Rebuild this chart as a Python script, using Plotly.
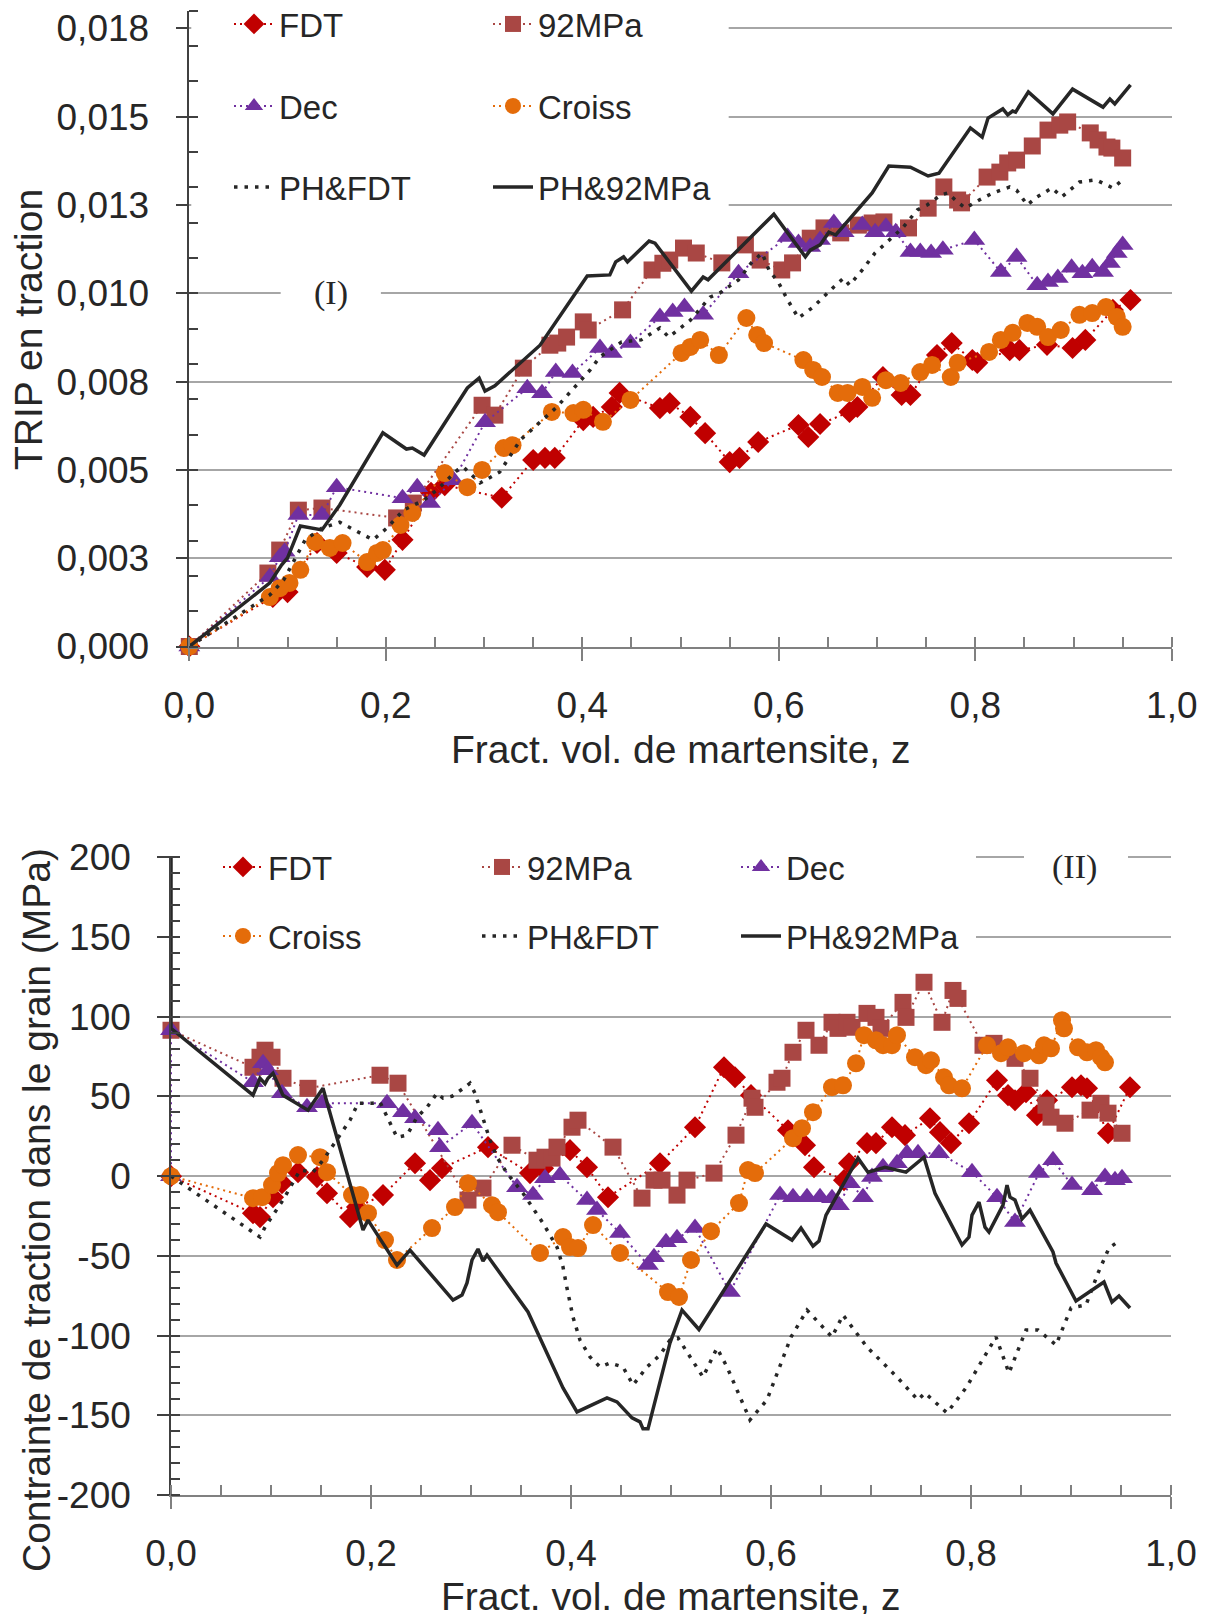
import plotly.graph_objects as go

# ---------------- DATA : top chart (TRIP en traction) ----------------
fdt_top_x = [0.000, 0.085, 0.100, 0.130, 0.150, 0.181, 0.199, 0.217, 0.246, 0.260, 0.318, 0.350, 0.362, 0.372,
             0.401, 0.411, 0.430, 0.438, 0.479, 0.489, 0.510, 0.525, 0.550, 0.560, 0.579, 0.620, 0.630, 0.642,
             0.672, 0.680, 0.706, 0.725, 0.734, 0.761, 0.776, 0.797, 0.802, 0.835, 0.845, 0.873, 0.899, 0.912,
             0.940, 0.958]
fdt_top_y = [0.00000, 0.00140, 0.00154, 0.00293, 0.00265, 0.00225, 0.00217, 0.00302, 0.00435, 0.00457, 0.00421,
             0.00528, 0.00534, 0.00534, 0.00641, 0.00650, 0.00678, 0.00718, 0.00675, 0.00689, 0.00650, 0.00604,
             0.00522, 0.00534, 0.00579, 0.00627, 0.00593, 0.00630, 0.00664, 0.00678, 0.00763, 0.00712, 0.00712,
             0.00825, 0.00859, 0.00811, 0.00803, 0.00839, 0.00839, 0.00854, 0.00845, 0.00868, 0.00953, 0.00981]

mpa_top_x = [0.000, 0.080, 0.092, 0.111, 0.135, 0.211, 0.228, 0.298, 0.311, 0.340, 0.367, 0.375, 0.384, 0.401,
             0.406, 0.441, 0.471, 0.482, 0.489, 0.503, 0.516, 0.542, 0.566, 0.581, 0.603, 0.614, 0.632, 0.646,
             0.663, 0.681, 0.695, 0.707, 0.732, 0.752, 0.768, 0.782, 0.786, 0.812, 0.825, 0.833, 0.842, 0.858,
             0.874, 0.886, 0.894, 0.917, 0.925, 0.934, 0.939, 0.950]
mpa_top_y = [0.00000, 0.00208, 0.00273, 0.00386, 0.00392, 0.00364, 0.00406, 0.00683, 0.00655, 0.00788, 0.00853,
             0.00859, 0.00876, 0.00919, 0.00896, 0.00953, 0.01066, 0.01085, 0.01094, 0.01128, 0.01114, 0.01086,
             0.01137, 0.01094, 0.01066, 0.01086, 0.01156, 0.01185, 0.01171, 0.01193, 0.01199, 0.01202, 0.01185,
             0.01241, 0.01301, 0.01264, 0.01256, 0.01329, 0.01343, 0.01369, 0.01377, 0.01417, 0.01462, 0.01476,
             0.01485, 0.01454, 0.01434, 0.01414, 0.01411, 0.01383]

dec_top_x = [0.000, 0.082, 0.092, 0.097, 0.111, 0.135, 0.150, 0.217, 0.232, 0.245, 0.269, 0.301, 0.344, 0.359,
             0.373, 0.390, 0.418, 0.430, 0.449, 0.479, 0.492, 0.504, 0.523, 0.559, 0.609, 0.620, 0.632, 0.642,
             0.656, 0.666, 0.685, 0.698, 0.709, 0.719, 0.734, 0.744, 0.755, 0.767, 0.799, 0.826, 0.842, 0.863,
             0.874, 0.884, 0.898, 0.909, 0.919, 0.930, 0.937, 0.944, 0.950]
dec_top_y = [0.00000, 0.00197, 0.00253, 0.00268, 0.00372, 0.00372, 0.00451, 0.00420, 0.00451, 0.00406, 0.00471,
             0.00635, 0.00731, 0.00717, 0.00777, 0.00774, 0.00845, 0.00831, 0.00859, 0.00933, 0.00947, 0.00961,
             0.00939, 0.01057, 0.01159, 0.01142, 0.01131, 0.01151, 0.01199, 0.01173, 0.01193, 0.01173, 0.01188,
             0.01173, 0.01117, 0.01117, 0.01114, 0.01123, 0.01151, 0.01060, 0.01103, 0.01023, 0.01032, 0.01043,
             0.01072, 0.01057, 0.01074, 0.01060, 0.01086, 0.01114, 0.01137]

cro_top_x = [0.000, 0.082, 0.092, 0.102, 0.113, 0.128, 0.143, 0.156, 0.181, 0.191, 0.197, 0.215, 0.227, 0.260,
             0.283, 0.298, 0.320, 0.329, 0.369, 0.391, 0.401, 0.421, 0.449, 0.501, 0.510, 0.520, 0.539, 0.567,
             0.578, 0.585, 0.625, 0.635, 0.644, 0.660, 0.670, 0.685, 0.695, 0.709, 0.724, 0.744, 0.756, 0.775,
             0.782, 0.814, 0.826, 0.838, 0.853, 0.863, 0.874, 0.887, 0.906, 0.919, 0.933, 0.944, 0.950]
cro_top_y = [0.00000, 0.00140, 0.00165, 0.00180, 0.00217, 0.00296, 0.00279, 0.00293, 0.00239, 0.00265, 0.00273,
             0.00344, 0.00378, 0.00491, 0.00451, 0.00500, 0.00562, 0.00570, 0.00664, 0.00661, 0.00670, 0.00636,
             0.00698, 0.00831, 0.00848, 0.00868, 0.00825, 0.00930, 0.00882, 0.00859, 0.00811, 0.00783, 0.00763,
             0.00718, 0.00718, 0.00735, 0.00704, 0.00754, 0.00746, 0.00777, 0.00797, 0.00763, 0.00803, 0.00834,
             0.00868, 0.00888, 0.00916, 0.00905, 0.00876, 0.00896, 0.00939, 0.00944, 0.00961, 0.00933, 0.00905]

phf_top_x = [0.000, 0.082, 0.096, 0.108, 0.118, 0.135, 0.153, 0.187, 0.201, 0.218, 0.239, 0.252, 0.273, 0.279,
             0.296, 0.316, 0.337, 0.374, 0.408, 0.418, 0.440, 0.460, 0.479, 0.488, 0.510, 0.530, 0.540, 0.559,
             0.572, 0.583, 0.590, 0.600, 0.609, 0.620, 0.635, 0.656, 0.666, 0.672, 0.685, 0.698, 0.712, 0.726,
             0.741, 0.751, 0.765, 0.772, 0.782, 0.790, 0.804, 0.818, 0.835, 0.842, 0.853, 0.863, 0.878, 0.888,
             0.906, 0.923, 0.940, 0.950]
phf_top_y = [0.00000, 0.00146, 0.00188, 0.00253, 0.00302, 0.00335, 0.00352, 0.00302, 0.00335, 0.00386, 0.00415,
             0.00443, 0.00500, 0.00508, 0.00463, 0.00494, 0.00585, 0.00678, 0.00783, 0.00820, 0.00862, 0.00868,
             0.00902, 0.00876, 0.00924, 0.00989, 0.01001, 0.01038, 0.01086, 0.01114, 0.01066, 0.01029, 0.00981,
             0.00930, 0.00961, 0.01018, 0.01043, 0.01023, 0.01066, 0.01114, 0.01151, 0.01185, 0.01236, 0.01250,
             0.01278, 0.01284, 0.01258, 0.01241, 0.01264, 0.01284, 0.01301, 0.01292, 0.01250, 0.01273, 0.01298,
             0.01273, 0.01315, 0.01321, 0.01298, 0.01321]

ph9_top_x = [0.000, 0.082, 0.094, 0.100, 0.113, 0.135, 0.153, 0.197, 0.221, 0.227, 0.239, 0.283, 0.295, 0.301,
             0.311, 0.357, 0.405, 0.428, 0.434, 0.442, 0.446, 0.468, 0.474, 0.511, 0.523, 0.528, 0.595, 0.627,
             0.632, 0.642, 0.651, 0.658, 0.695, 0.712, 0.734, 0.752, 0.763, 0.795, 0.807, 0.813, 0.828, 0.833,
             0.838, 0.841, 0.848, 0.854, 0.879, 0.899, 0.930, 0.937, 0.942, 0.958]
ph9_top_y = [0.00000, 0.00180, 0.00231, 0.00251, 0.00341, 0.00330, 0.00400, 0.00605, 0.00559, 0.00562, 0.00542,
             0.00732, 0.00760, 0.00723, 0.00738, 0.00853, 0.01049, 0.01052, 0.01089, 0.01103, 0.01089, 0.01148,
             0.01142, 0.01006, 0.01046, 0.01038, 0.01224, 0.01103, 0.01122, 0.01137, 0.01173, 0.01165, 0.01284,
             0.01360, 0.01357, 0.01332, 0.01340, 0.01468, 0.01442, 0.01496, 0.01522, 0.01505, 0.01516, 0.01513,
             0.01544, 0.01570, 0.01508, 0.01578, 0.01527, 0.01550, 0.01536, 0.01590]

# ---------------- DATA : bottom chart (Contrainte, MPa) ----------------
fdt_bot_x = [0.000, 0.082, 0.089, 0.102, 0.111, 0.127, 0.146, 0.156, 0.179, 0.186, 0.212, 0.244, 0.259, 0.271,
             0.317, 0.359, 0.372, 0.399, 0.416, 0.437, 0.489, 0.524, 0.553, 0.564, 0.580, 0.617, 0.634, 0.643,
             0.673, 0.678, 0.696, 0.705, 0.721, 0.734, 0.759, 0.769, 0.780, 0.798, 0.826, 0.837, 0.844, 0.855,
             0.866, 0.876, 0.901, 0.910, 0.916, 0.937, 0.959]
fdt_bot_y = [0.0, -23.2, -25.7, -13.2, -4.4, 2.5, -0.6, -10.7, -25.7, -19.4, -11.9, 8.1, -2.5, 5.0, 18.2, 1.9, 5.0,
             16.3, 5.6, -13.2, 8.1, 30.7, 68.3, 62.0, 50.8, 28.8, 19.4, 5.6, -2.5, 8.1, 20.7, 20.7, 30.7, 25.7,
             36.3, 27.6, 20.7, 33.2, 60.1, 50.8, 47.6, 52.6, 38.2, 47.6, 55.8, 57.0, 55.1, 26.9, 55.8]

mpa_bot_x = [0.000, 0.082, 0.089, 0.094, 0.101, 0.112, 0.137, 0.209, 0.227, 0.297, 0.312, 0.341, 0.366, 0.374,
             0.381, 0.386, 0.401, 0.407, 0.442, 0.471, 0.483, 0.491, 0.506, 0.516, 0.543, 0.565, 0.581, 0.584,
             0.606, 0.611, 0.622, 0.635, 0.648, 0.661, 0.667, 0.676, 0.681, 0.696, 0.705, 0.710, 0.732, 0.735,
             0.753, 0.771, 0.782, 0.787, 0.812, 0.823, 0.844, 0.859, 0.875, 0.880, 0.894, 0.919, 0.930, 0.937,
             0.951]
mpa_bot_y = [91.5, 68.3, 74.6, 79.0, 74.6, 61.4, 55.1, 63.3, 58.3, -15.0, -7.5, 19.4, 10.0, 11.9, 11.3, 18.2, 30.7,
             35.1, 18.2, -13.8, -2.5, -2.5, -11.9, -2.5, 1.9, 25.7, 48.9, 43.2, 58.9, 61.4, 77.7, 91.5, 82.1, 96.5,
             92.7, 96.5, 93.4, 102.1, 99.6, 92.7, 109.0, 99.6, 121.6, 96.5, 116.5, 111.5, 82.1, 83.3, 73.9, 61.4,
             44.5, 37.0, 33.2, 41.4, 45.7, 39.5, 26.9]

dec_bot_x = [0.000, 0.000, 0.082, 0.092, 0.097, 0.111, 0.136, 0.151, 0.216, 0.232, 0.244, 0.267, 0.269, 0.301,
             0.346, 0.362, 0.374, 0.389, 0.416, 0.426, 0.449, 0.477, 0.483, 0.495, 0.506, 0.524, 0.559, 0.609,
             0.622, 0.636, 0.649, 0.661, 0.668, 0.679, 0.692, 0.701, 0.712, 0.726, 0.736, 0.747, 0.768, 0.801,
             0.826, 0.844, 0.868, 0.882, 0.901, 0.921, 0.934, 0.944, 0.951]
dec_bot_y = [0.0, 91.5, 58.9, 70.8, 66.4, 52.0, 43.2, 45.7, 45.7, 40.1, 36.3, 28.8, 18.2, 33.2, -6.9, -11.9, -1.3,
             0.6, -15.0, -21.3, -35.7, -55.8, -50.8, -41.4, -38.9, -32.6, -72.7, -11.9, -13.2, -13.2, -13.2,
             -13.8, -18.2, -4.4, -13.2, -0.6, 5.6, 8.1, 14.4, 14.4, 14.4, 2.5, -13.2, -28.8, 1.9, 10.0, -5.6,
             -8.8, -0.6, -2.5, -1.3]

cro_bot_x = [0.000, 0.082, 0.091, 0.101, 0.107, 0.112, 0.127, 0.149, 0.156, 0.181, 0.189, 0.197, 0.214, 0.226,
             0.261, 0.284, 0.297, 0.321, 0.327, 0.369, 0.392, 0.399, 0.407, 0.422, 0.449, 0.497, 0.508, 0.520,
             0.540, 0.568, 0.577, 0.584, 0.622, 0.631, 0.642, 0.661, 0.672, 0.685, 0.693, 0.705, 0.712, 0.721,
             0.726, 0.744, 0.755, 0.760, 0.773, 0.778, 0.791, 0.816, 0.830, 0.837, 0.853, 0.868, 0.873, 0.880,
             0.891, 0.893, 0.907, 0.916, 0.925, 0.930, 0.934]
cro_bot_y = [0.0, -13.8, -13.2, -5.6, 1.9, 6.9, 13.2, 11.9, 2.5, -11.9, -11.9, -23.2, -40.1, -52.6, -32.6, -19.4,
             -4.4, -18.2, -22.6, -48.2, -38.2, -44.5, -45.1, -30.7, -48.2, -72.7, -75.8, -52.6, -34.5, -16.9, 3.8,
             1.9, 23.8, 30.1, 40.1, 55.8, 57.0, 70.8, 88.4, 85.2, 82.1, 82.1, 88.4, 74.6, 69.6, 72.7, 62.0, 57.0,
             55.1, 82.1, 77.1, 80.8, 77.1, 75.8, 82.1, 80.2, 97.8, 92.7, 80.8, 77.7, 79.0, 74.6, 71.4]

phf_bot_x = [0.000, 0.089, 0.094, 0.112, 0.129, 0.142, 0.152, 0.166, 0.179, 0.187, 0.201, 0.209, 0.219, 0.226,
             0.236, 0.246, 0.256, 0.266, 0.272, 0.281, 0.294, 0.299, 0.304, 0.312, 0.319, 0.326, 0.336, 0.352,
             0.372, 0.386, 0.392, 0.396, 0.402, 0.409, 0.419, 0.429, 0.439, 0.452, 0.462, 0.476, 0.489, 0.499,
             0.507, 0.532, 0.546, 0.556, 0.579, 0.596, 0.620, 0.636, 0.661, 0.672, 0.696, 0.726, 0.747, 0.754,
             0.776, 0.795, 0.825, 0.838, 0.855, 0.867, 0.885, 0.900, 0.915, 0.927, 0.938, 0.945, 0.950]
phf_bot_y = [0.0, -38.2, -32.0, -15.0, 3.8, 2.5, 10.0, 22.6, 35.1, 45.7, 45.7, 46.4, 33.2, 24.4, 25.7, 37.0, 43.2,
             52.0, 48.9, 50.1, 55.8, 58.3, 52.0, 37.0, 22.6, 11.9, 1.9, -10.7, -29.5, -44.5, -57.0, -70.2, -88.4,
             -102.8, -113.4, -119.7, -117.2, -119.7, -131.0, -119.7, -112.2, -102.8, -101.5, -126.0, -107.8,
             -119.7, -152.9, -140.4, -100.9, -84.0, -100.9, -87.1, -107.2, -126.0, -140.4, -136.0, -148.5,
             -132.8, -100.9, -123.5, -96.5, -96.5, -105.9, -82.7, -80.8, -60.8, -45.1, -42.0, -43.2]

ph9_bot_x = [0.000, 0.000, 0.082, 0.089, 0.094, 0.097, 0.102, 0.112, 0.137, 0.152, 0.192, 0.197, 0.226, 0.239,
             0.282, 0.291, 0.296, 0.301, 0.307, 0.312, 0.316, 0.357, 0.392, 0.406, 0.436, 0.446, 0.461, 0.469,
             0.472, 0.477, 0.499, 0.511, 0.528, 0.595, 0.621, 0.630, 0.642, 0.648, 0.655, 0.687, 0.697, 0.714,
             0.735, 0.753, 0.764, 0.791, 0.798, 0.801, 0.808, 0.814, 0.818, 0.832, 0.836, 0.839, 0.844, 0.851,
             0.859, 0.882, 0.885, 0.905, 0.933, 0.941, 0.948, 0.959]
ph9_bot_y = [200.0, 92.7, 50.8, 61.4, 58.0, 61.4, 64.5, 50.8, 41.4, 55.1, -33.8, -27.6, -55.8, -46.4, -77.7, -74.6,
             -67.0, -52.6, -45.7, -53.3, -49.5, -85.2, -132.8, -147.9, -139.1, -141.6, -151.6, -154.1, -158.5,
             -158.5, -104.6, -84.0, -96.2, -30.0, -40.1, -32.6, -43.9, -40.7, -24.4, 11.3, 2.5, 5.6, 2.5, 11.9,
             -10.7, -43.2, -38.2, -24.4, -16.3, -32.0, -35.1, -18.2, -5.6, -13.2, -15.0, -26.9, -21.3, -47.6,
             -54.5, -78.3, -66.4, -79.0, -75.2, -82.7]

# tick labels
x_tickvals = [0.0, 0.2, 0.4, 0.6, 0.8, 1.0]
x_ticktext = ["0,0", "0,2", "0,4", "0,6", "0,8", "1,0"]
y1_tickvals = [0.0, 0.0025, 0.005, 0.0075, 0.01, 0.0125, 0.015, 0.0175]
y1_ticktext = ["0,000", "0,003", "0,005", "0,008", "0,010", "0,013", "0,015", "0,018"]
y2_tickvals = [-200, -150, -100, -50, 0, 50, 100, 150, 200]
y2_ticktext = ["-200", "-150", "-100", "-50", "0", "50", "100", "150", "200"]

names = ["FDT", "92MPa", "Dec", "Croiss", "PH&FDT", "PH&92MPa"]

# ---------------- STYLE ----------------
W, H = 1211, 1614
OFF = 8  # default page margin in front of the plot div
FONT = "Liberation Sans, Arial, sans-serif"
TXT = "#262626"
GRID = "#A6A6A6"

styles = {
    "FDT": dict(color="#C00000", symbol="diamond", size=17, lw=2, dash="2px,4px"),
    "92MPa": dict(color="#A94744", symbol="square", size=17, lw=2, dash="2px,4px"),
    "Dec": dict(color="#7030A0", symbol="triangle-up", size=19, lw=2, dash="2px,4px"),
    "Croiss": dict(color="#E46C0A", symbol="circle", size=18, lw=2, dash="2px,4px"),
    "PH&FDT": dict(color="#262626", symbol=None, size=0, lw=3.5, dash="3.5px,7px"),
    "PH&92MPa": dict(color="#262626", symbol=None, size=0, lw=3.5, dash="solid"),
}

top_data = {
    "FDT": (fdt_top_x, fdt_top_y), "92MPa": (mpa_top_x, mpa_top_y), "Dec": (dec_top_x, dec_top_y),
    "Croiss": (cro_top_x, cro_top_y), "PH&FDT": (phf_top_x, phf_top_y), "PH&92MPa": (ph9_top_x, ph9_top_y),
}
bot_data = {
    "FDT": (fdt_bot_x, fdt_bot_y), "92MPa": (mpa_bot_x, mpa_bot_y), "Dec": (dec_bot_x, dec_bot_y),
    "Croiss": (cro_bot_x, cro_bot_y), "PH&FDT": (phf_bot_x, phf_bot_y), "PH&92MPa": (ph9_bot_x, ph9_bot_y),
}
top_legend = {"FDT": "legend", "92MPa": "legend", "Dec": "legend2", "Croiss": "legend2",
              "PH&FDT": "legend3", "PH&92MPa": "legend3"}
bot_legend = {"FDT": "legend4", "92MPa": "legend4", "Dec": "legend4",
              "Croiss": "legend5", "PH&FDT": "legend5", "PH&92MPa": "legend5"}


def make_trace(name, xs, ys, xa, ya, leg):
    s = styles[name]
    kw = dict(x=xs, y=ys, name=name, xaxis=xa, yaxis=ya, legend=leg, cliponaxis=False,
              line=dict(color=s["color"], width=s["lw"], dash=s["dash"]))
    if s["symbol"]:
        kw["mode"] = "lines+markers"
        kw["marker"] = dict(symbol=s["symbol"], size=s["size"], color=s["color"], line=dict(width=0))
    else:
        kw["mode"] = "lines"
    return go.Scatter(**kw)


fig = go.Figure()
for n in names:
    fig.add_trace(make_trace(n, *top_data[n], "x", "y", top_legend[n]))
for n in names:
    fig.add_trace(make_trace(n, *bot_data[n], "x2", "y2", bot_legend[n]))


def px(xp):
    return (xp - OFF) / W


def py(yp):
    return 1 - (yp - OFF) / H


xcommon = dict(range=[0, 1], tickmode="array", tickvals=x_tickvals, ticktext=x_ticktext,
               ticks="outside", ticklen=12, tickwidth=1.5, tickcolor="#808080",
               showline=True, linecolor="#808080", linewidth=2, showgrid=False, zeroline=False,
               tickfont=dict(family=FONT, size=37, color=TXT), ticklabelstandoff=13,
               minor=dict(tickmode="linear", tick0=0, dtick=0.05, ticks="inside", ticklen=10,
                          tickcolor="#808080", tickwidth=1.5, showgrid=False))
ycommon = dict(ticks="outside", ticklen=12, tickwidth=1.5, tickcolor="#404040",
               showline=True, linecolor="#404040", linewidth=1.5, showgrid=True, gridcolor=GRID,
               gridwidth=1.5, zeroline=False, tickfont=dict(family=FONT, size=37, color=TXT),
               ticklabelstandoff=19)

fig.update_layout(
    width=W, height=H, margin=dict(l=0, r=0, t=0, b=0, autoexpand=False),
    paper_bgcolor="white", plot_bgcolor="white",
    font=dict(family=FONT, color=TXT),
    xaxis=dict(domain=[px(189.3), px(1171.8)], anchor="y", **xcommon),
    yaxis=dict(domain=[py(646.5), py(10.7)], anchor="x", range=[0, 0.018], tickmode="array",
               tickvals=y1_tickvals, ticktext=y1_ticktext,
               minor=dict(tickmode="linear", tick0=0, dtick=0.001, ticks="inside", ticklen=9,
                          tickcolor="#404040", tickwidth=1.5, showgrid=False), **ycommon),
    xaxis2=dict(domain=[px(171), px(1171)], anchor="y2", **xcommon),
    yaxis2=dict(domain=[py(1495), py(855.7)], anchor="x2", range=[-200, 201], tickmode="array",
                tickvals=y2_tickvals, ticktext=y2_ticktext,
                minor=dict(tickmode="linear", tick0=0, dtick=10, ticks="inside", ticklen=9,
                           tickcolor="#404040", tickwidth=1.5, showgrid=False), **ycommon),
)

leg_common = dict(orientation="h", xanchor="left", yanchor="middle", bgcolor="rgba(0,0,0,0)",
                  font=dict(family=FONT, size=33, color=TXT), entrywidth=204, itemwidth=40,
                  tracegroupgap=0)
fig.update_layout(
    legend=dict(x=px(229), y=py(24), **leg_common),
    legend2=dict(x=px(229), y=py(106), **leg_common),
    legend3=dict(x=px(229), y=py(187), **leg_common),
    legend4=dict(x=px(218), y=py(867), **leg_common),
    legend5=dict(x=px(218), y=py(936), **leg_common),
)

# gridline at the top edge of the lower panel (plotly omits it at the range edge)
fig.add_shape(type="line", xref="x2", yref="y2", x0=0, x1=1, y0=200, y1=200,
              line=dict(color=GRID, width=1.5), layer="between")
# white masks hiding the gridlines behind legends and panel labels
fig.add_shape(type="rect", xref="x", yref="y", x0=0.002, x1=0.549, y0=0.0121, y1=0.0181,
              fillcolor="white", line=dict(width=0), layer="between")
fig.add_shape(type="rect", xref="x", yref="y", x0=0.093, x1=0.195, y0=0.0094, y1=0.0106,
              fillcolor="white", line=dict(width=0), layer="between")
fig.add_shape(type="rect", xref="x2", yref="y2", x0=0.002, x1=0.805, y0=140, y1=202,
              fillcolor="white", line=dict(width=0), layer="between")
fig.add_shape(type="rect", xref="x2", yref="y2", x0=0.853, x1=0.957, y0=185, y1=202,
              fillcolor="white", line=dict(width=0), layer="between")

annots = [
    dict(text="Fract. vol. de martensite, z", x=px(681), y=py(749), size=39, angle=0),
    dict(text="Fract. vol. de martensite, z", x=px(671), y=py(1596), size=39, angle=0),
    dict(text="TRIP en traction", x=px(29), y=py(330), size=39, angle=-90),
    dict(text="Contrainte de traction dans le grain (MPa)", x=px(36), y=py(1210), size=39, angle=-90),
]
for a in annots:
    fig.add_annotation(text=a["text"], x=a["x"], y=a["y"], xref="paper", yref="paper",
                       xanchor="center", yanchor="middle", showarrow=False, textangle=a["angle"],
                       font=dict(family=FONT, size=a["size"], color=TXT))

fig.add_annotation(text="(I)", x=0.144, y=0.0100, xref="x", yref="y", showarrow=False,
                   font=dict(family="Liberation Serif, Times New Roman, serif", size=34, color=TXT))
fig.add_annotation(text="(II)", x=0.903, y=194, xref="x2", yref="y2", showarrow=False,
                   font=dict(family="Liberation Serif, Times New Roman, serif", size=34, color=TXT))

fig.write_html("out.html")
